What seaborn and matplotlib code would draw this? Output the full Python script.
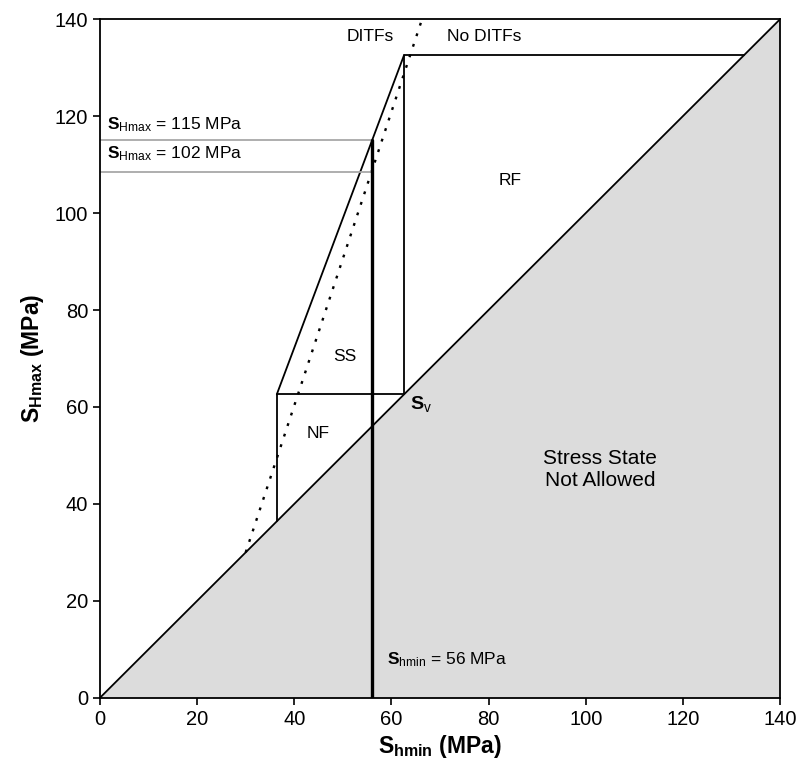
import seaborn as sns
import pandas as pd
import matplotlib.pyplot as plt

# stress values (MPa)
sv = 62.6              # vertical stress
nf_shmin = 36.4        # normal faulting limit on Shmin
rf_shmax = 132.6       # reverse faulting limit on SHmax
shmin_obs = 56         # observed Shmin
shmax_lines = [115, 108.5]
shmax_labels = ["115", "102"]
ditf_x = [30, 66.3]
ditf_y = [30, 140]
diag = [0, 140]

sns.set_style("ticks")
plt.rcParams['font.family'] = ['Liberation Sans', 'DejaVu Sans']
plt.rcParams['mathtext.fontset'] = 'custom'
plt.rcParams['mathtext.rm'] = 'Liberation Sans'
plt.rcParams['mathtext.bf'] = 'Liberation Sans:bold'
plt.rcParams['mathtext.it'] = 'Liberation Sans'
for k in ['text.color', 'axes.labelcolor', 'xtick.color', 'ytick.color']:
    plt.rcParams[k] = 'black'

fig = plt.figure(figsize=(8, 7.71), dpi=100)
ax = fig.add_axes([0.125, 0.095, 0.85, 0.88])

# region not allowed (SHmax < Shmin)
ax.fill_between(diag, [0, 0], diag, color="#dcdcdc", lw=0, zorder=0)

def seg(xs, ys, **kw):
    d = pd.DataFrame({"x": xs, "y": ys})
    sns.lineplot(data=d, x="x", y="y", sort=False, estimator=None, ax=ax, **kw)

black = dict(color="black", lw=1.3)
seg(diag, diag, **black)
# NF box
seg([nf_shmin, nf_shmin, sv], [nf_shmin, sv, sv], **black)
# strike-slip / frictional limit line
seg([nf_shmin, sv], [sv, rf_shmax], **black)
# RF box
seg([sv, sv, rf_shmax], [sv, rf_shmax, rf_shmax], **black)
# DITF line
seg(ditf_x, ditf_y, color="black", lw=1.7, linestyle=(0, (1.2, 3.5)))
# observed SHmax limits
for v in shmax_lines:
    seg([0, shmin_obs - 0.2], [v, v], color="#a8a8a8", lw=1.3)
# observed Shmin
seg([shmin_obs, shmin_obs], [0, shmax_lines[0]], color="black", lw=2.4)

fs = 12.5
ax.text(55.6, 136.4, "DITFs", ha="center", va="center", fontsize=fs)
ax.text(79, 136.4, "No DITFs", ha="center", va="center", fontsize=fs)
ax.text(84.4, 106.8, "RF", ha="center", va="center", fontsize=fs)
ax.text(50.4, 70.5, "SS", ha="center", va="center", fontsize=fs)
ax.text(44.9, 54.5, "NF", ha="center", va="center", fontsize=fs)
ax.text(63.8, 60.7, r"$\mathbf{S}_{\mathrm{v}}$", ha="left", va="center", fontsize=14)
ax.text(103, 47, "Stress State\nNot Allowed", ha="center", va="center",
        fontsize=15, linespacing=1.2)
ax.text(1.4, 118.3, r"$\mathbf{S}_{\mathrm{Hmax}}$ = " + shmax_labels[0] + " MPa",
        ha="left", va="center", fontsize=fs)
ax.text(1.4, 112.2, r"$\mathbf{S}_{\mathrm{Hmax}}$ = " + shmax_labels[1] + " MPa",
        ha="left", va="center", fontsize=fs)
ax.text(59, 7.8, r"$\mathbf{S}_{\mathrm{hmin}}$ = " + str(shmin_obs) + " MPa",
        ha="left", va="center", fontsize=fs)

ax.set_xlim(0, 140)
ax.set_ylim(0, 140)
ax.set_xticks(range(0, 141, 20))
ax.set_yticks(range(0, 141, 20))
ax.tick_params(labelsize=14.5, length=5, width=1.2, direction="out")
for s in ax.spines.values():
    s.set_linewidth(1.3)
    s.set_color("black")
ax.set_xlabel(r"$\mathbf{S_{hmin}}$ (MPa)", fontsize=16.5, fontweight="bold", labelpad=3)
ax.set_ylabel(r"$\mathbf{S_{Hmax}}$ (MPa)", fontsize=16.5, fontweight="bold", labelpad=6)

fig.savefig("out.png", dpi=100)
